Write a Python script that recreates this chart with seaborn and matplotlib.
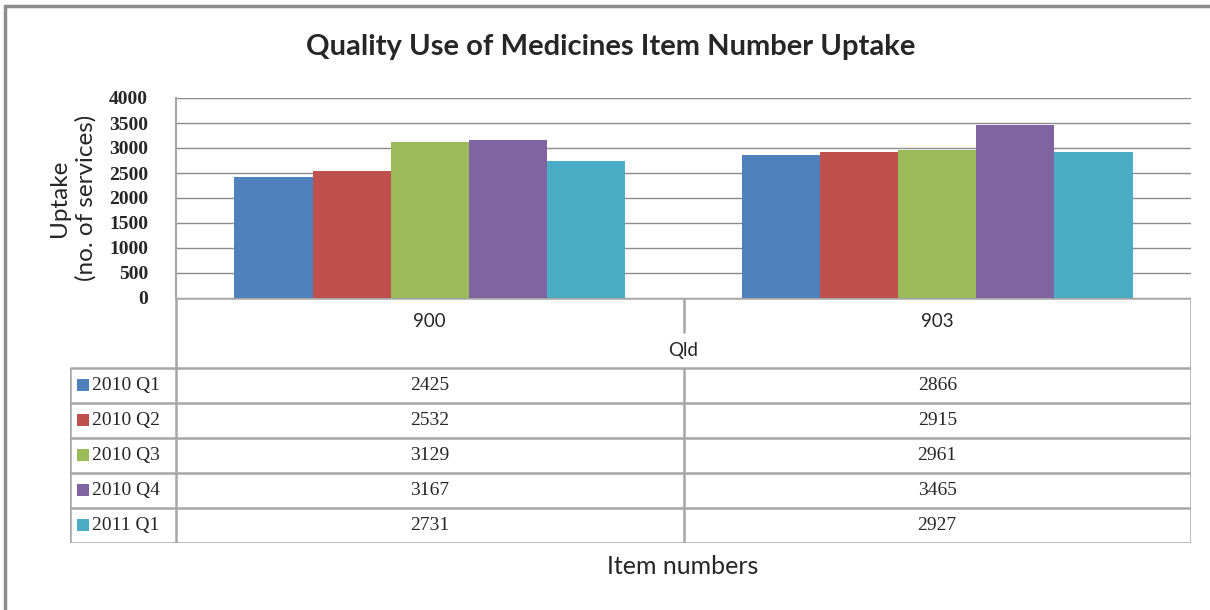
import pandas as pd
import matplotlib
matplotlib.use("Agg")
import matplotlib.pyplot as plt
import seaborn as sns

# --- data ---
ITEMS = ["900", "903"]
REGION = "Qld"
QUARTERS = ["2010 Q1", "2010 Q2", "2010 Q3", "2010 Q4", "2011 Q1"]
Q2010_1 = [2425, 2866]
Q2010_2 = [2532, 2915]
Q2010_3 = [3129, 2961]
Q2010_4 = [3167, 3465]
Q2011_1 = [2731, 2927]
SERIES = [Q2010_1, Q2010_2, Q2010_3, Q2010_4, Q2011_1]
COLORS = ["#4F81BD", "#C0504D", "#9BBB59", "#8064A2", "#4BACC6"]
YTICKS = [0, 500, 1000, 1500, 2000, 2500, 3000, 3500, 4000]

rows = []
for q, vals in zip(QUARTERS, SERIES):
    for item, v in zip(ITEMS, vals):
        rows.append({"item": item, "quarter": q, "uptake": v})
df = pd.DataFrame(rows)

sns.set_theme(style="white")
plt.rcParams["font.family"] = ["Lato", "DejaVu Sans"]

W, H = 1210, 610
fig = plt.figure(figsize=(W / 100, H / 100), dpi=100)

def fx(x):
    return x / W

def fy(y):
    return 1 - y / H

# pixel layout
L, R, T, B = 176, 1191, 98, 298
TL, TB = 70, 543
GRID = "#8C8C8C"
LINE = "#A6A6A6"

ax = fig.add_axes([fx(L), fy(B), fx(R) - fx(L), fy(T) - fy(B)])
sns.barplot(data=df, x="item", y="uptake", hue="quarter", order=ITEMS,
            hue_order=QUARTERS, palette=COLORS, width=0.77, linewidth=0,
            saturation=1, ax=ax, legend=False)
ax.set_xlim(-0.5, 1.5)
ax.set_ylim(0, 4000)
ax.set_yticks(YTICKS)
ax.set_yticklabels([str(t) for t in YTICKS], family="Liberation Serif",
                   fontweight="bold", fontsize=14)
ax.tick_params(axis="y", length=0, pad=20)
ax.set_xticks([])
ax.set_xlabel("")
ax.set_ylabel("")
ax.yaxis.grid(True, color=GRID, linewidth=1)
ax.set_axisbelow(True)
for s in ["top", "right", "bottom"]:
    ax.spines[s].set_visible(False)
ax.spines["left"].set_color(LINE)
ax.spines["left"].set_linewidth(1.5)

# data table under the axis
tb = fig.add_axes([fx(TL), fy(TB), fx(R) - fx(TL), fy(B) - fy(TB)])
tb.set_xlim(TL, R)
tb.set_ylim(TB, B)
tb.axis("off")

mid = (L + R) / 2
cat_w = (R - L) / len(ITEMS)
row_top = 368
row_h = (TB - row_top) / len(QUARTERS)

kw = dict(color=LINE, linewidth=1.8, solid_capstyle="butt")
tb.plot([L, R], [B, B], **kw)
tb.plot([L, L], [B, TB], **kw)
tb.plot([R, R], [B, TB], **kw)
tb.plot([TL, TL], [row_top, TB], **kw)
tb.plot([mid, mid], [B, 333], **kw)
tb.plot([mid, mid], [row_top, TB], **kw)
for i in range(len(QUARTERS) + 1):
    y = row_top + i * row_h
    tb.plot([TL, R], [y, y], **kw)

for j, item in enumerate(ITEMS):
    cx = L + cat_w * (j + 0.5)
    tb.text(cx, 322, item, ha="center", va="center", fontsize=13.5)
tb.text(mid, 351, REGION, ha="center", va="center", fontsize=13.5)

for i, (q, vals, c) in enumerate(zip(QUARTERS, SERIES, COLORS)):
    cy = row_top + (i + 0.5) * row_h
    tb.scatter([83], [cy], marker="s", s=80, color=c, linewidths=0)
    tb.text(92, cy, q, ha="left", va="center", family="Liberation Serif",
            fontsize=14)
    for j, v in enumerate(vals):
        cx = L + cat_w * (j + 0.5)
        tb.text(cx, cy, str(v), ha="center", va="center",
                family="Liberation Serif", fontsize=14)

fig.text(fx(611), fy(47), "Quality Use of Medicines Item Number Uptake",
         ha="center", va="center", fontsize=21, fontweight="bold")
fig.text(fx(73), fy(198), "Uptake\n(no. of services)", rotation=90,
         ha="center", va="center", fontsize=17.5, linespacing=1.3)
fig.text(fx(683), fy(566), "Item numbers", ha="center", va="center",
         fontsize=18)

# chart frame (top and left edges visible)
fig.add_artist(plt.Line2D([fx(5), 1], [fy(6), fy(6)], color="#8C8C8C",
                          linewidth=2.5, transform=fig.transFigure))
fig.add_artist(plt.Line2D([fx(5), fx(5)], [fy(6), 0], color="#8C8C8C",
                          linewidth=2.5, transform=fig.transFigure))

fig.savefig("out.png", dpi=100)
